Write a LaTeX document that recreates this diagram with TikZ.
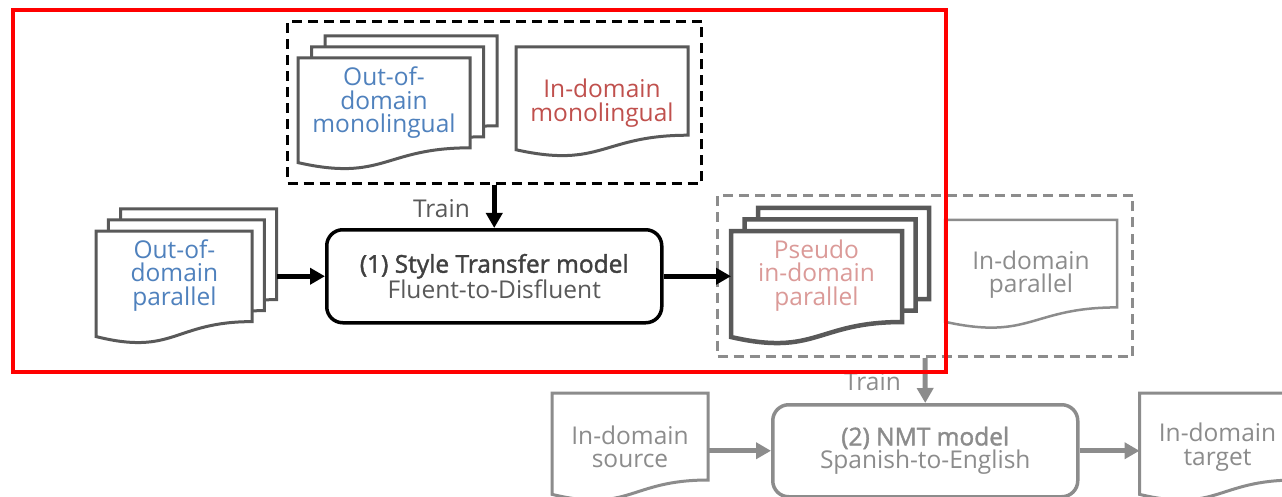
\documentclass[tikz,border=0pt]{standalone}
\usepackage{fontspec}
\setmainfont{Open Sans}
\newfontfamily\semib{Open Sans}[FakeBold=1.6]
\usetikzlibrary{arrows.meta,calc}
\definecolor{ublue}{HTML}{4F81BD}
\definecolor{ured}{HTML}{C0504D}
\definecolor{upink}{HTML}{DB9A98}
\definecolor{dgray}{HTML}{595959}
\definecolor{mgray}{HTML}{8C8C8C}
\definecolor{tgray}{HTML}{404040}
\newcommand\docshape[6]{%
  \node[inner sep=0pt, minimum width=#5pt, minimum height=#6pt, anchor=north west] (#1) at (#3,#4) {};
  \draw[#2] (#3,#4) -- ({#3+#5},#4) -- ({#3+#5},{#4+0.802*#6})
    .. controls ({#3+0.5*#5},{#4+0.802*#6}) and ({#3+0.5*#5},{#4+1.1075*#6}) ..
    (#3,{#4+0.934*#6}) -- cycle;}
\tikzset{
  txt/.style={font=\fontsize{24.5}{23.5}\selectfont, align=center, inner sep=0pt},
  doctop/.style={draw=dgray, line width=3pt, fill=white, line join=miter},
  docpseudo/.style={draw=dgray, line width=4.5pt, fill=white},
  doclight/.style={draw=mgray, line width=2.5pt, fill=white},
  docgray/.style={draw=mgray, line width=3pt, fill=white},
  blackarrow/.style={line width=5pt, -{Triangle[length=15pt,width=16pt]}},
  grayarrow/.style={draw=mgray, line width=5pt, -{Triangle[length=15pt,width=16pt]}, mgray},
  modelbox/.style={rectangle, rounded corners=16pt, line width=3.5pt, inner sep=0pt},
  dbox/.style={rectangle, dashed, dash pattern=on 10pt off 6pt, line width=3pt, inner sep=0pt},
}
\begin{document}
\begin{tikzpicture}[x=1pt,y=-1pt]
\useasboundingbox (0,0) rectangle (1282,497);
\clip (0,0) rectangle (1282,497);
\fill[white] (0,0) rectangle (1282,497);

% dashed boxes
\node[dbox, draw=black, minimum width=414pt, minimum height=162pt, anchor=north west] (monobox) at (286,20) {};
\node[dbox, draw=mgray, minimum width=415pt, minimum height=161pt, anchor=north west] (pbox) at (716,194) {};

% out-of-domain monolingual stack
\docshape{opm3}{doctop}{325}{36}{172}{112}
\docshape{opm2}{doctop}{311.5}{47}{172}{112}
\docshape{opm1}{doctop}{298}{58}{172}{112}
\node[txt, text=ublue] (opm-t) at (384,103) {Out-of-\\domain\\monolingual};

% in-domain monolingual
\docshape{idm}{doctop}{516}{47}{172}{110}
\node[txt, text=ured] (idm-t) at (602,103) {In-domain\\monolingual};

% out-of-domain parallel stack
\docshape{opp3}{doctop}{120.7}{209}{156}{113}
\docshape{opp2}{doctop}{108.3}{220}{156}{113}
\docshape{opp1}{doctop}{96}{231}{156}{113}
\node[txt, text=ublue] (opp-t) at (174.4,275.5) {Out-of-\\domain\\parallel};

% in-domain parallel (behind pseudo)
\docshape{idp}{doclight}{945}{220}{172}{109}
\node[txt, text=mgray] (idp-t) at (1031,274.5) {In-domain\\parallel};

% pseudo stack
\docshape{ps3}{docpseudo}{758}{208}{171}{113.5}
\docshape{ps2}{docpseudo}{744.5}{219.5}{171}{113.5}
\docshape{ps1}{docpseudo}{731}{231}{171}{113.5}
\node[txt, text=upink] (ps-t) at (816.5,275.5) {Pseudo\\in-domain\\parallel};

% style transfer model
\node[modelbox, draw=black, minimum width=335pt, minimum height=93pt, anchor=north west,
      txt, text=tgray] (st) at (325,228) {{\semib (1) Style Transfer model}\\\textcolor{dgray}{Fluent-to-Disfluent}};

% NMT model
\node[modelbox, draw=mgray, minimum width=305pt, minimum height=92pt, anchor=north west,
      txt, text=mgray] (nmt) at (771,403) {{\semib (2) NMT model}\\Spanish-to-English};

% bottom docs
\docshape{src}{docgray}{552}{393}{156}{108.5}
\node[txt, text=mgray] (src-t) at (630,447) {In-domain\\source};
\docshape{tgt}{docgray}{1139.5}{393}{156}{108.5}
\node[txt, text=mgray] (tgt-t) at (1217.5,447) {In-domain\\target};

% arrows
\draw[blackarrow] (st.north |- monobox.south) -- (st.north);
\node[txt, text=dgray, anchor=east] (train1) at (470,209) {Train};
\draw[blackarrow] (st.west -| opp3.east) -- (st.west);
\draw[blackarrow] (st.east) -- (st.east -| ps1.west);

\draw[grayarrow] (pbox.south) -- (nmt.north);
\node[txt, text=mgray, anchor=east] (train2) at (901,382) {Train};
\draw[grayarrow] (nmt.west -| src.east) -- (nmt.west);
\draw[grayarrow] (nmt.east) -- (nmt.east -| tgt.west);

% red frame
\node[draw=red, line width=4pt, inner sep=0pt, minimum width=933pt, minimum height=362pt, anchor=north west] (frame) at (11,8) {};
\end{tikzpicture}
\end{document}
